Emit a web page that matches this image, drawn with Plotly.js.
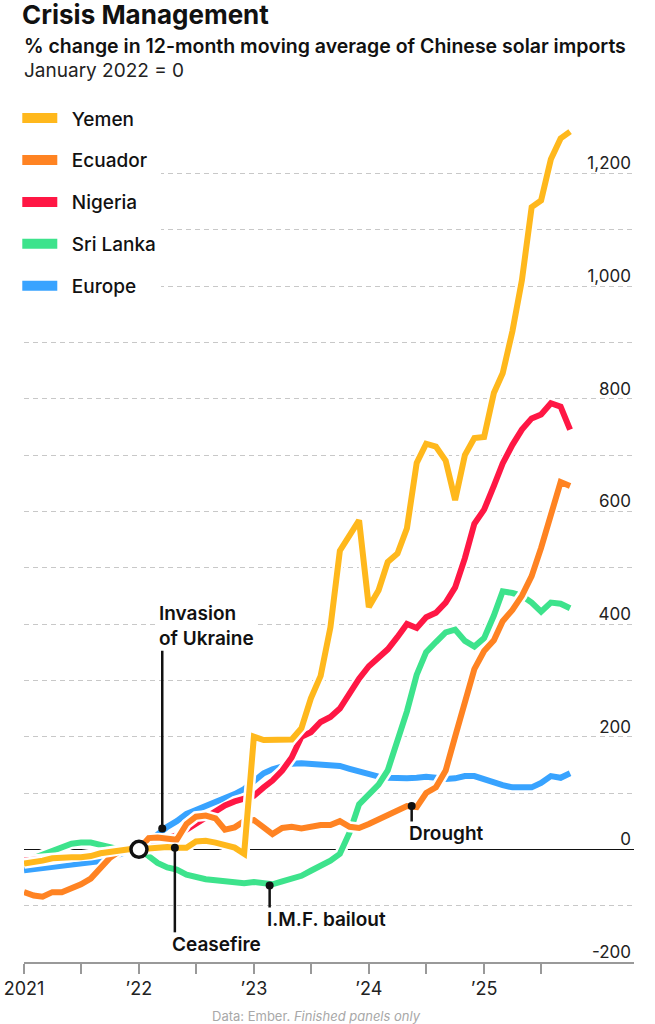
<!DOCTYPE html>
<html>
<head>
<meta charset="utf-8">
<script src="https://cdn.plot.ly/plotly-3.0.1.min.js"></script>
<style>
  html, body { margin: 0; padding: 0; background: #fff; }
  #chart { width: 655px; height: 1024px; }
</style>
</head>
<body>
<div id="chart"></div>
<script>
// ---- Data (monthly, Jan 2021 – Oct 2025), % change in 12-month moving average, Jan 2022 = 0 ----
const months = [];
for (let yr = 2021; yr <= 2025; yr++) {
  for (let mo = 1; mo <= 12; mo++) {
    if (yr === 2025 && mo > 10) break;
    months.push(yr + '-' + String(mo).padStart(2, '0') + '-01');
  }
}

const yemen = [
  -25, -23, -20, -16, -14, -14, -14, -12, -7, -4, -1, 0,
  0, 2, 3, 4, 3, 3, 14, 15, 12, 8, 3, -8,
  200, 194, 194, 194, 195, 215, 268, 308, 394, 530, 556, 584,
  430, 460, 510, 525, 570, 686, 720, 715, 690, 620, 700, 730,
  732, 810, 845, 920, 1010, 1140, 1152, 1225, 1262, 1274
];
const ecuador = [
  -76, -82, -84, -76, -76, -70, -62, -52, -35, -15, -3, 0,
  0, 20, 21, 19, 17, 45, 58, 60, 55, 35, 39, 50,
  52, 39, 27, 38, 40, 37, 40, 43, 43, 50, 40, 38,
  45, 53, 62, 71, 77, 75, 100, 110, 140, 200, 265, 320,
  352, 371, 405, 425, 450, 485, 535, 590, 652, 645
];
const nigeria = [
  -20, -19, -18, -16, -14, -13, -12, -10, -7, -4, -1, 0,
  0, 8, 14, 20, 25, 35, 45, 57, 68, 78, 85, 90,
  95, 110, 122, 140, 163, 200, 208, 226, 235, 250, 278, 303,
  325, 342, 355, 377, 400, 393, 412, 420, 438, 465, 517, 578,
  603, 645, 685, 718, 745, 765, 772, 792, 786, 745
];
const sriLanka = [
  -22, -15, -8, -2, 5, 10, 12, 12, 8, 3, 0, 0,
  0, -12, -24, -32, -36, -45, -50, -53, -55, -56, -58, -60,
  -58, -60, -62, -57, -52, -47, -38, -30, -20, -8, 30, 80,
  97, 115, 140, 190, 245, 310, 350, 368, 385, 390, 370, 360,
  375, 415, 458, 455, 450, 438, 422, 438, 436, 428
];
const europe = [
  -37, -35, -33, -31, -29, -28, -26, -24, -21, -15, -8, -3,
  0, 14, 28, 40, 50, 63, 70, 77, 84, 90, 98, 107,
  122, 135, 142, 148, 152, 153, 152, 152, 150, 148, 143, 138,
  133, 129, 127, 126, 126, 127, 129, 127, 125, 126, 130, 130,
  124, 118, 114, 110, 110, 110, 118, 130, 127, 135
];

const seriesNames  = ['Yemen', 'Ecuador', 'Nigeria', 'Sri Lanka', 'Europe'];
const seriesColors = ['#FFB81C', '#FF8322', '#FF1744', '#3DE38C', '#38A3FF'];
const seriesValues = [yemen, ecuador, nigeria, sriLanka, europe];

// Event annotations
const eventLabels = ['Invasion<br>of Ukraine', 'Ceasefire', 'I.M.F. bailout', 'Drought'];
const eventDates  = ['2022-03-16', '2022-04-25', '2023-02-20', '2024-05-16'];
const eventValues = [37, 3, -64, 77];

// Axis ticks
const xTickVals = ['2021-01-01','2021-07-01','2022-01-01','2022-07-01','2023-01-01','2023-07-01',
                   '2024-01-01','2024-07-01','2025-01-01','2025-07-01'];
const xTickText = ['2021','','\u201922','','\u201923','','\u201924','','\u201925',''];
const yTickVals = [-200,-100,0,100,200,300,400,500,600,700,800,900,1000,1100,1200,1300];
const yTickText = ['-200','','0','','200','','400','','600','','800','','1,000','','1,200',''];

const FONT = 'Inter, Roboto, "Liberation Sans", sans-serif';
const traces = [];

// Legend swatches (no data; legend only)
seriesNames.forEach((nm, i) => {
  traces.push({
    x: [null], y: [null], type: 'scatter', mode: 'lines', name: '\u2002' + nm,
    legendgroup: nm, legendrank: i + 1,
    line: { color: seriesColors[i], width: 10 }, hoverinfo: 'skip', showlegend: true
  });
});

// Series drawn bottom-to-top: Europe, Sri Lanka, Nigeria, Ecuador, Yemen (white halo under each)
[4, 3, 2, 1, 0].forEach(i => {
  traces.push({
    x: months, y: seriesValues[i], type: 'scatter', mode: 'lines',
    line: { color: '#ffffff', width: 11 }, hoverinfo: 'skip', showlegend: false
  });
  traces.push({
    x: months, y: seriesValues[i], type: 'scatter', mode: 'lines', name: seriesNames[i],
    line: { color: seriesColors[i], width: 6 }, hoverinfo: 'skip', showlegend: false
  });
});

// event dots
traces.push({
  x: eventDates, y: eventValues, type: 'scatter', mode: 'markers',
  marker: { color: '#111', size: 8 }, showlegend: false, hoverinfo: 'skip'
});
// baseline circle at Jan 2022
traces.push({
  x: [months[12]], y: [yemen[12]], type: 'scatter', mode: 'markers',
  marker: { color: '#ffffff', size: 16, line: { color: '#111', width: 3.5 } },
  showlegend: false, hoverinfo: 'skip'
});

// leader lines (pixel lengths relative to the event point)
const leaderPx = [178, -85, -23, -16];
const shapes = eventDates.map((d, k) => ({
  type: 'line', xref: 'x', yref: 'y', ysizemode: 'pixel',
  yanchor: eventValues[k], x0: d, x1: d, y0: 0, y1: leaderPx[k],
  line: { color: '#111', width: 2.5 }, layer: 'above'
}));
// white panel behind the legend (hides gridlines there)
shapes.push({
  type: 'rect', xref: 'paper', yref: 'y', x0: -0.05, x1: 0.239, y0: 960, y1: 1320,
  fillcolor: '#ffffff', line: { width: 0 }, layer: 'between'
});

const annotations = eventLabels.map((t, k) => ({
  x: eventDates[k], y: eventValues[k], xref: 'x', yref: 'y',
  text: t, showarrow: false, align: 'left',
  xanchor: 'left', yanchor: leaderPx[k] > 0 ? 'bottom' : 'top',
  xshift: -4, yshift: leaderPx[k] > 0 ? leaderPx[k] - 1 : leaderPx[k] + 1,
  bgcolor: '#ffffff', borderpad: 0,
  font: { family: FONT, size: 19, color: '#111', weight: 600 }
}));

annotations.push({
  xref: 'paper', yref: 'paper', x: -0.004, y: 1, yshift: 71,
  xanchor: 'left', yanchor: 'middle', showarrow: false,
  text: '% change in 12-month moving average of Chinese solar imports',
  font: { family: FONT, size: 19.5, color: '#111', weight: 600 }
});
annotations.push({
  xref: 'paper', yref: 'paper', x: -0.004, y: 1, yshift: 47,
  xanchor: 'left', yanchor: 'middle', showarrow: false,
  text: 'January 2022 = 0',
  font: { family: FONT, size: 19, color: '#222', weight: 400 }
});
annotations.push({
  xref: 'paper', yref: 'paper', x: 0.48, y: 0, yshift: -54,
  xanchor: 'center', yanchor: 'middle', showarrow: false,
  text: 'Data: Ember. <i>Finished panels only</i>',
  font: { family: FONT, size: 13, color: '#a8a8a8' }
});

const layout = {
  width: 655, height: 1024,
  margin: { l: 24, r: 21, t: 117, b: 62, pad: 0 },
  paper_bgcolor: '#ffffff', plot_bgcolor: '#ffffff',
  title: {
    text: 'Crisis Management',
    xref: 'container', yref: 'container',
    x: 22 / 655, xanchor: 'left', y: 1 - 15 / 1024, yanchor: 'middle',
    font: { family: FONT, size: 26, color: '#111', weight: 700 }
  },
  showlegend: true,
  legend: {
    x: -0.011, y: 1.021, xanchor: 'left', yanchor: 'top',
    bgcolor: '#ffffff', borderwidth: 0,
    traceorder: 'grouped', tracegroupgap: 14.2, itemwidth: 35,
    font: { family: FONT, size: 19, color: '#111', weight: 500 }
  },
  xaxis: {
    type: 'date', range: ['2021-01-01', '2026-04-22'],
    tickmode: 'array', tickvals: xTickVals, ticktext: xTickText,
    showgrid: false, zeroline: false,
    showline: true, linecolor: '#999', linewidth: 1.5,
    ticks: 'outside', ticklen: 10, tickwidth: 1.5, tickcolor: '#999',
    tickfont: { family: FONT, size: 18, color: '#222' },
    fixedrange: true
  },
  yaxis: {
    range: [-200, 1300], side: 'right', ticklabelposition: 'inside',
    tickmode: 'array', tickvals: yTickVals, ticktext: yTickText,
    ticklabelshift: -10, ticks: '',
    showgrid: true, gridcolor: '#c8c8c8', gridwidth: 1, griddash: '5px,4px',
    zeroline: true, zerolinecolor: '#111', zerolinewidth: 1.5,
    showline: false,
    tickfont: { family: FONT, size: 17, color: '#222' },
    fixedrange: true
  },
  shapes: shapes,
  annotations: annotations,
  hovermode: false
};

Plotly.newPlot('chart', traces, layout, { staticPlot: true, displayModeBar: false });
</script>
</body>
</html>
